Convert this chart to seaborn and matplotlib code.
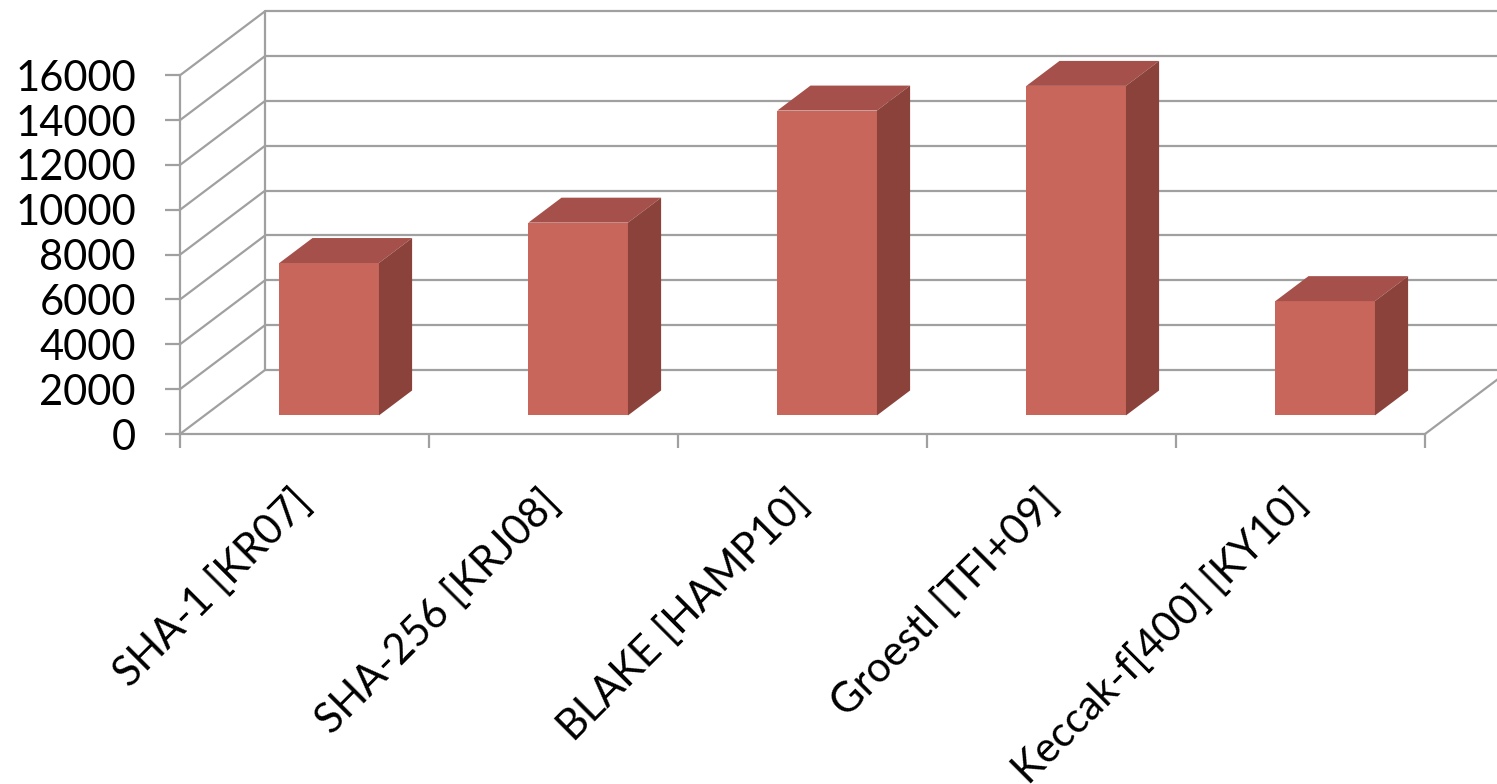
import matplotlib
matplotlib.use("Agg")
import matplotlib.pyplot as plt
from matplotlib.patches import Polygon
import seaborn as sns
import pandas as pd

# ---- data ----
categories = ["SHA-1 [KR07]", "SHA-256 [KRJ08]", "BLAKE [HAMP10]",
              "Groestl [TFI+09]", "Keccak-f[400] [KY10]"]
values = [6800, 8600, 13600, 14700, 5100]
y_ticks = [0, 2000, 4000, 6000, 8000, 10000, 12000, 14000, 16000]

# ---- style ----
sns.set_style("white")
plt.rcParams["font.family"] = ["Lato", "DejaVu Sans"]

FRONT = "#C9665B"
TOP = "#A5504A"
SIDE = "#8B423B"
GRID = "#A0A0A0"
LW = 1.6

fig = plt.figure(figsize=(14.97, 7.84), dpi=100)
W, H = 1497, 784
ax = fig.add_axes([180 / W, (H - 434) / H, (1425 - 180) / W, (434 - 75.3) / H])

df = pd.DataFrame({"cat": categories, "val": values})
sns.barplot(data=df, x="cat", y="val", width=0.4, color=FRONT, saturation=1,
            linewidth=0, ax=ax, zorder=5)

ax.set_xlim(-0.5, 4.5)
ax.set_ylim(0, 16000)

# pseudo-3D depth (in data units)
D = 85 / 249.0                  # full depth along x (category units)
DV = 64 / ((434 - 75.3) / 16000)  # full depth along y (value units)
f0, f1 = 0.29, 0.68             # bar front/back depth fractions

ymax = y_ticks[-1]
# back wall gridlines and left wall diagonals
for t in y_ticks:
    ax.plot([-0.5 + D, 4.5 + D], [t + DV, t + DV], color=GRID, lw=LW,
            clip_on=False, zorder=1, solid_capstyle="butt")
    ax.plot([-0.5, -0.5 + D], [t, t + DV], color=GRID, lw=LW,
            clip_on=False, zorder=1)
# back-left vertical edge
ax.plot([-0.5 + D, -0.5 + D], [DV, ymax + DV], color=GRID, lw=LW,
        clip_on=False, zorder=1)
# floor right diagonal
ax.plot([4.5, 4.5 + D], [0, DV], color=GRID, lw=LW, clip_on=False, zorder=1)

# bars: move to depth and add top / side faces
for p in ax.patches:
    x0, w, h = p.get_x(), p.get_width(), p.get_height()
    nx, ny = x0 + f0 * D, f0 * DV
    p.set_x(nx)
    p.set_y(ny)
    dd, ddv = (f1 - f0) * D, (f1 - f0) * DV
    top = Polygon([(nx, ny + h), (nx + w, ny + h), (nx + w + dd, ny + h + ddv),
                   (nx + dd, ny + h + ddv)], closed=True, facecolor=TOP,
                  edgecolor="none", zorder=6, clip_on=False)
    side = Polygon([(nx + w, ny), (nx + w + dd, ny + ddv),
                    (nx + w + dd, ny + h + ddv), (nx + w, ny + h)], closed=True,
                   facecolor=SIDE, edgecolor="none", zorder=6, clip_on=False)
    ax.add_patch(top)
    ax.add_patch(side)
    p.set_clip_on(False)

# spines
for s in ["top", "right"]:
    ax.spines[s].set_visible(False)
for s in ["left", "bottom"]:
    ax.spines[s].set_color(GRID)
    ax.spines[s].set_linewidth(LW)
    ax.spines[s].set_zorder(2)

# y axis
ax.set_yticks(y_ticks)
ax.set_yticklabels([str(t) for t in y_ticks])
ax.tick_params(axis="y", which="major", length=10.8, width=LW, color=GRID,
               pad=21, labelsize=30, labelcolor="black", direction="out", left=True)

# x axis: category labels at centres, tick marks at boundaries
ax.set_xticks(range(len(categories)))
ax.set_xticks([i - 0.5 for i in range(len(categories) + 1)], minor=True)
ax.set_xticklabels(categories)
ax.tick_params(axis="x", which="major", length=0, pad=45, labelsize=30,
               labelcolor="black")
ax.tick_params(axis="x", which="minor", length=10, width=LW, color=GRID,
               direction="out", bottom=True)
for lab in ax.get_xticklabels():
    lab.set_rotation(45)
    lab.set_ha("right")
    lab.set_va("center")
    lab.set_rotation_mode("anchor")

ax.set_xlabel("")
ax.set_ylabel("")
ax.set_facecolor("none")

fig.savefig("out.png", dpi=100)
